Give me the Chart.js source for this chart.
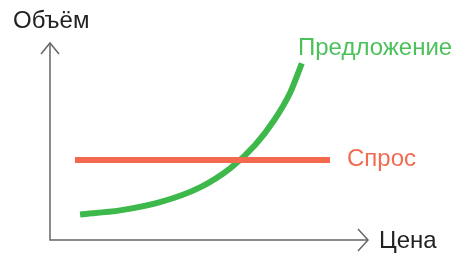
<!DOCTYPE html>
<html>
<head>
<meta charset="utf-8">
<script src="https://cdn.jsdelivr.net/npm/chart.js@4.4.0/dist/chart.umd.min.js"></script>
<style>
  body { margin: 0; background: #fff; }
</style>
</head>
<body>
<canvas id="chart" width="460" height="257"></canvas>
<script>
// supply curve (price, volume) in abstract units
let supplyX = [0.94, 2.19, 3.44, 4.69, 5.63, 6.41, 7.03, 7.5, 7.87];
let supplyY = [1.28, 1.48, 1.89, 2.63, 3.58, 4.75, 6.05, 7.35, 8.83];
// demand is flat
let demandX = [0.78, 8.75];
let demandY = [4.0, 4.0];

let labels = { y: 'Объём', x: 'Цена', supply: 'Предложение', demand: 'Спрос' };

function pts(xs, ys) {
    return xs.map((x, i) => ({ x: x, y: ys[i] }));
}

var font = '24px "Liberation Sans", Arial, sans-serif';

// axes with arrows + text labels
const decor = {
    id: 'decor',
    beforeDatasetsDraw(chart) {
        let c = chart.ctx;
        let a = chart.chartArea;
        c.save();
        c.strokeStyle = '#666';
        c.lineWidth = 1.5;
        c.beginPath();
        c.moveTo(a.left, a.top + 3);
        c.lineTo(a.left, a.bottom);
        c.lineTo(a.right - 2, a.bottom);
        c.stroke();
        // y arrow
        c.beginPath();
        c.moveTo(a.left - 9, a.top + 14);
        c.lineTo(a.left, a.top + 3);
        c.lineTo(a.left + 9, a.top + 14);
        c.stroke();
        // x arrow
        c.beginPath();
        c.moveTo(a.right - 12, a.bottom - 11);
        c.lineTo(a.right - 2, a.bottom);
        c.lineTo(a.right - 12, a.bottom + 11);
        c.stroke();
        c.restore();
    },
    afterDatasetsDraw(chart) {
        let c = chart.ctx;
        c.save();
        c.font = font;
        c.textBaseline = 'alphabetic';
        c.fillStyle = '#222';
        c.fillText(labels.y, 13, 28);
        c.fillText(labels.x, 379, 248);
        c.fillStyle = '#4cc05a';
        c.fillText(labels.supply, 298, 55);
        c.fillStyle = '#f06b52';
        c.fillText(labels.demand, 347, 166);
        c.restore();
    }
};

var chart = new Chart(document.getElementById('chart'), {
    type: 'line',
    data: {
        datasets: [{
            data: pts(demandX, demandY),
            borderColor: '#f2694e',
            borderWidth: 6,
            borderCapStyle: 'butt',
            pointRadius: 0,
            fill: false
        }, {
            data: pts(supplyX, supplyY),
            borderColor: '#3db84a',
            borderWidth: 6,
            borderCapStyle: 'butt',
            cubicInterpolationMode: 'monotone',
            pointRadius: 0,
            fill: false
        }]
    },
    options: {
        responsive: false,
        animation: false,
        layout: {
            padding: { left: 50, right: 90, top: 40, bottom: 17 }
        },
        scales: {
            x: { type: 'linear', min: 0, max: 10, display: false },
            y: { min: 0, max: 10, display: false }
        },
        plugins: {
            legend: { display: false },
            tooltip: { enabled: false }
        }
    },
    plugins: [decor]
});
</script>
</body>
</html>
